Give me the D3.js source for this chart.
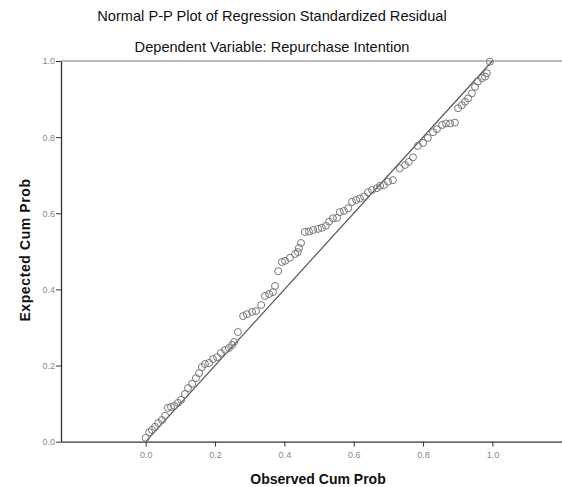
<!DOCTYPE html>
<html>
<head>
<meta charset="utf-8">
<script src="https://cdn.jsdelivr.net/npm/d3@7"></script>
<style>
  body { margin: 0; background: #fff; }
  svg { display: block; }
</style>
</head>
<body>
<script>
// observed cumulative probability (x) and expected cumulative probability (y)
const observed = [
  0.000, 0.010, 0.018, 0.027, 0.036, 0.047, 0.056, 0.064, 0.073, 0.082,
  0.093, 0.102, 0.113, 0.122, 0.134, 0.145, 0.154, 0.162, 0.171, 0.183,
  0.194, 0.206, 0.217, 0.229, 0.240, 0.249, 0.255, 0.266, 0.281, 0.292,
  0.307, 0.318, 0.333, 0.344, 0.356, 0.367, 0.373, 0.382, 0.393, 0.402,
  0.416, 0.431, 0.439, 0.442, 0.448, 0.459, 0.471, 0.483, 0.497, 0.508,
  0.520, 0.529, 0.540, 0.552, 0.560, 0.572, 0.584, 0.595, 0.607, 0.618,
  0.630, 0.641, 0.653, 0.667, 0.676, 0.687, 0.699, 0.713, 0.733, 0.748,
  0.759, 0.771, 0.785, 0.800, 0.814, 0.829, 0.840, 0.855, 0.866, 0.878,
  0.892, 0.901, 0.912, 0.921, 0.930, 0.941, 0.950, 0.958, 0.970, 0.979,
  0.984, 0.993
];
const expected = [
  0.010, 0.025, 0.031, 0.039, 0.049, 0.057, 0.068, 0.089, 0.091, 0.094,
  0.102, 0.110, 0.125, 0.141, 0.152, 0.167, 0.180, 0.196, 0.204, 0.207,
  0.217, 0.222, 0.233, 0.241, 0.246, 0.254, 0.262, 0.288, 0.330, 0.335,
  0.341, 0.343, 0.359, 0.383, 0.388, 0.393, 0.409, 0.448, 0.472, 0.475,
  0.483, 0.493, 0.498, 0.509, 0.522, 0.551, 0.552, 0.556, 0.559, 0.562,
  0.567, 0.578, 0.587, 0.588, 0.603, 0.606, 0.613, 0.630, 0.635, 0.639,
  0.644, 0.655, 0.661, 0.666, 0.672, 0.674, 0.683, 0.687, 0.718, 0.727,
  0.735, 0.747, 0.777, 0.785, 0.798, 0.813, 0.821, 0.832, 0.836, 0.836,
  0.838, 0.876, 0.884, 0.893, 0.902, 0.915, 0.932, 0.946, 0.955, 0.959,
  0.968, 0.998
];
const tickValues = [0, 0.2, 0.4, 0.6, 0.8, 1.0];

const W = 562, H = 487;
const plotLeft = 61, plotRight = 562, plotTop = 61, plotBottom = 441.7;

const svg = d3.select("body").append("svg")
    .attr("width", W)
    .attr("height", H);

// 0 sits at x=145.7 and 1 at x=492.4; the frame runs a bit past both
const x = d3.scaleLinear().domain([-0.2443, 1.2008]).range([plotLeft, plotRight]);
const y = d3.scaleLinear().domain([0, 1]).range([plotBottom, plotTop]);

// titles
svg.append("text")
    .attr("x", 272).attr("y", 21)
    .attr("text-anchor", "middle")
    .style("font-family", "Liberation Sans, Arial, sans-serif")
    .style("font-size", "14.6px")
    .style("fill", "#111")
    .text("Normal P-P Plot of Regression Standardized Residual");

svg.append("text")
    .attr("x", 272).attr("y", 52)
    .attr("text-anchor", "middle")
    .style("font-family", "Liberation Sans, Arial, sans-serif")
    .style("font-size", "14.6px")
    .style("fill", "#111")
    .text("Dependent Variable: Repurchase Intention");

// gray top frame line
svg.append("line")
    .attr("x1", plotLeft).attr("x2", plotRight)
    .attr("y1", plotTop).attr("y2", plotTop)
    .attr("stroke", "#bbb")
    .attr("stroke-width", 2);

// axes
const xAxis = svg.append("g")
    .attr("transform", `translate(0,${plotBottom})`)
    .call(d3.axisBottom(x).tickValues(tickValues).tickFormat(d3.format(".1f")).tickSize(5).tickSizeOuter(0));

const yAxis = svg.append("g")
    .attr("transform", `translate(${plotLeft},0)`)
    .call(d3.axisLeft(y).tickValues(tickValues).tickFormat(d3.format(".1f")).tickSize(5).tickSizeOuter(0));

[xAxis, yAxis].forEach(g => {
    g.select(".domain").attr("stroke", "#333").attr("stroke-width", 1.3);
    g.selectAll(".tick line").attr("stroke", "#333");
    g.selectAll(".tick text")
        .style("font-family", "Liberation Sans, Arial, sans-serif")
        .style("font-size", "9px")
        .style("fill", "#888");
});
xAxis.selectAll(".tick text").attr("dy", "0.9em").attr("y", 8);
yAxis.selectAll(".tick text").attr("x", -6);

// axis titles
svg.append("text")
    .attr("x", 318).attr("y", 484)
    .attr("text-anchor", "middle")
    .style("font-family", "Liberation Sans, Arial, sans-serif")
    .style("font-size", "14px")
    .style("font-weight", "bold")
    .style("fill", "#111")
    .text("Observed Cum Prob");

svg.append("text")
    .attr("transform", "translate(30,250) rotate(-90)")
    .attr("text-anchor", "middle")
    .style("font-family", "Liberation Sans, Arial, sans-serif")
    .style("font-size", "14px")
    .style("font-weight", "bold")
    .style("letter-spacing", "0.6px")
    .style("fill", "#111")
    .text("Expected Cum Prob");

// reference diagonal
svg.append("line")
    .attr("x1", x(0)).attr("y1", y(0))
    .attr("x2", x(1)).attr("y2", y(1))
    .attr("stroke", "#555")
    .attr("stroke-width", 1.2);

// points
const pts = observed.map((o, i) => ({ o, e: expected[i] }));
svg.append("g").selectAll("circle")
    .data(pts)
    .join("circle")
    .attr("cx", d => x(d.o))
    .attr("cy", d => y(d.e))
    .attr("r", 3.5)
    .attr("fill", "none")
    .attr("stroke", "#777")
    .attr("stroke-width", 1);
</script>
</body>
</html>
